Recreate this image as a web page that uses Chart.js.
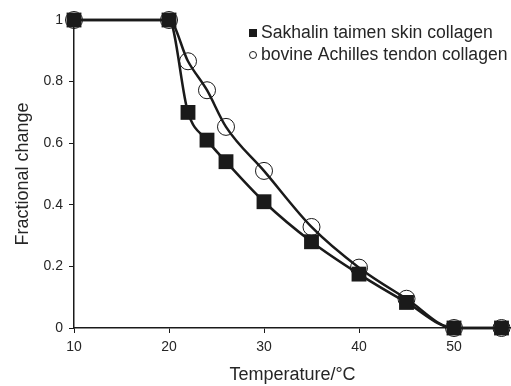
<!DOCTYPE html>
<html>
<head>
<meta charset="utf-8">
<script src="https://cdn.jsdelivr.net/npm/chart.js@4"></script>
<style>
  html, body { margin: 0; padding: 0; background: #fff; }
  #wrap { width: 511px; height: 386px; }
</style>
</head>
<body>
<div id="wrap"><canvas id="chart" width="511" height="386"></canvas></div>
<script>
// data
const temperature = [10, 20, 22, 24, 26, 30, 35, 40, 45, 50, 55];
const sakhalinSkin = [1, 1, 0.70, 0.61, 0.54, 0.41, 0.28, 0.175, 0.083, 0, 0];
const bovineTendon = [1, 1, 0.866, 0.772, 0.653, 0.51, 0.328, 0.196, 0.095, 0, 0];
const xTicks = [10, 20, 30, 40, 50];
const seriesNames = ['Sakhalin taimen skin collagen', 'bovine Achilles tendon collagen'];

const ink = '#1a1a1a';
const textColor = '#262626';
const font = 'Liberation Sans, Arial, sans-serif';

const toPoints = (ys) => temperature.map((t, i) => ({ x: t, y: ys[i] }));

// simple legend drawn inside the plot, top right
const legendPlugin = {
    id: 'cornerLegend',
    afterDraw(chart) {
        const ctx = chart.ctx;
        ctx.save();
        ctx.font = '17.6px ' + font;
        ctx.fillStyle = textColor;
        ctx.textBaseline = 'middle';
        ctx.fillText(seriesNames[0], 261, 33);
        ctx.fillText(seriesNames[1], 261, 55);
        ctx.fillStyle = ink;
        ctx.fillRect(249, 29, 8, 8);
        ctx.strokeStyle = ink;
        ctx.lineWidth = 1;
        ctx.beginPath();
        ctx.arc(253, 55, 3.5, 0, Math.PI * 2);
        ctx.stroke();
        ctx.restore();
    }
};

new Chart(document.getElementById('chart').getContext('2d'), {
    type: 'line',
    data: {
        datasets: [
            {
                label: seriesNames[0],
                data: toPoints(sakhalinSkin),
                borderColor: ink,
                borderWidth: 2.5,
                cubicInterpolationMode: 'monotone',
                pointStyle: 'rect',
                pointRadius: 10.5,
                pointBackgroundColor: ink,
                pointBorderColor: ink,
                pointBorderWidth: 0,
                clip: false
            },
            {
                label: seriesNames[1],
                data: toPoints(bovineTendon),
                borderColor: ink,
                borderWidth: 2.5,
                cubicInterpolationMode: 'monotone',
                pointStyle: 'circle',
                pointRadius: 8.5,
                pointBackgroundColor: 'rgba(255,255,255,0)',
                pointBorderColor: ink,
                pointBorderWidth: 1,
                clip: false
            }
        ]
    },
    options: {
        responsive: false,
        animation: false,
        layout: { autoPadding: false, padding: { left: 12, right: 0, top: 20, bottom: 0 } },
        plugins: {
            legend: { display: false },
            tooltip: { enabled: false }
        },
        scales: {
            x: {
                type: 'linear',
                min: 10,
                max: 56,
                afterBuildTicks(scale) {
                    scale.ticks = xTicks.map(v => ({ value: v }));
                },
                afterFit(scale) {
                    scale.height = 58;
                    scale.paddingLeft = 0;
                    scale.paddingRight = 0;
                },
                grid: { drawOnChartArea: false, drawTicks: true, tickLength: 5, color: ink },
                border: { display: true, color: ink, width: 1.5 },
                ticks: { color: textColor, font: { family: font, size: 14 }, padding: 6, maxRotation: 0 },
                title: {
                    display: true,
                    text: 'Temperature/°C',
                    color: textColor,
                    font: { family: font, size: 18 },
                    padding: { top: 0, bottom: 0 }
                }
            },
            y: {
                min: 0,
                max: 1,
                afterFit(scale) {
                    scale.width = 62;
                    scale.paddingTop = 0;
                    scale.paddingBottom = 0;
                },
                grid: { drawOnChartArea: false, drawTicks: true, tickLength: 5, color: ink },
                border: { display: true, color: ink, width: 1.5 },
                ticks: {
                    stepSize: 0.2,
                    color: textColor,
                    font: { family: font, size: 14 },
                    padding: 6,
                    callback: (v) => String(Number(v.toFixed(1)))
                },
                title: {
                    display: true,
                    text: 'Fractional change',
                    color: textColor,
                    font: { family: font, size: 18 },
                    padding: { top: 0, bottom: 0 }
                }
            }
        }
    },
    plugins: [legendPlugin]
});
</script>
</body>
</html>
